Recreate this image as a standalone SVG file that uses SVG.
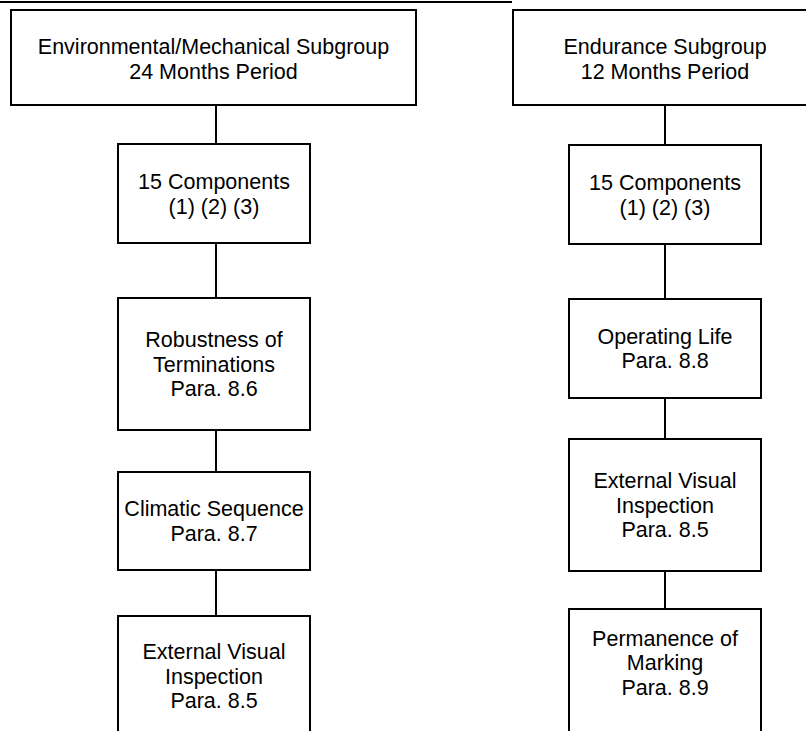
<svg xmlns="http://www.w3.org/2000/svg" width="806" height="731" viewBox="0 0 806 731">
<style>
.box{fill:#fff;stroke:#000;stroke-width:2}
.ln{stroke:#000;stroke-width:2;fill:none}
text{font-family:"Liberation Sans",Arial,sans-serif;font-size:21.5px;fill:#000;text-anchor:middle}
</style>
<rect width="806" height="731" fill="#fff"/>
<line class="ln" x1="0" y1="2" x2="512" y2="2"/>
<g id="connectors">
<line class="ln" x1="216" y1="105" x2="216" y2="144"/>
<line class="ln" x1="216" y1="243" x2="216" y2="298"/>
<line class="ln" x1="216" y1="430" x2="216" y2="472"/>
<line class="ln" x1="216" y1="570" x2="216" y2="616"/>
<line class="ln" x1="665" y1="105" x2="665" y2="145"/>
<line class="ln" x1="665" y1="244" x2="665" y2="299"/>
<line class="ln" x1="665" y1="398" x2="665" y2="439"/>
<line class="ln" x1="665" y1="571" x2="665" y2="609"/>
</g>
<g id="envmech">
<rect class="box" x="11" y="10" width="405" height="95"/>
<text x="213.5" y="54">Environmental/Mechanical Subgroup</text>
<text x="213.5" y="79">24 Months Period</text>
</g>
<g id="left-components">
<rect class="box" x="118" y="144" width="192" height="99"/>
<text x="214" y="189">15 Components</text>
<text x="214" y="214">(1) (2) (3)</text>
</g>
<g id="robustness">
<rect class="box" x="118" y="298" width="192" height="132"/>
<text x="214" y="347">Robustness of</text>
<text x="214" y="371.5">Terminations</text>
<text x="214" y="396">Para. 8.6</text>
</g>
<g id="climatic">
<rect class="box" x="118" y="472" width="192" height="98"/>
<text x="214" y="516">Climatic Sequence</text>
<text x="214" y="540.5">Para. 8.7</text>
</g>
<g id="left-visual">
<rect class="box" x="118" y="616" width="192" height="140"/>
<text x="214" y="659">External Visual</text>
<text x="214" y="684">Inspection</text>
<text x="214" y="708">Para. 8.5</text>
</g>
<g id="endurance">
<rect class="box" x="513" y="10" width="305" height="95"/>
<text x="665" y="54">Endurance Subgroup</text>
<text x="665" y="79">12 Months Period</text>
</g>
<g id="right-components">
<rect class="box" x="569" y="145" width="192" height="99"/>
<text x="665" y="190">15 Components</text>
<text x="665" y="215">(1) (2) (3)</text>
</g>
<g id="operating">
<rect class="box" x="569" y="299" width="192" height="99"/>
<text x="665" y="343.5">Operating Life</text>
<text x="665" y="368">Para. 8.8</text>
</g>
<g id="right-visual">
<rect class="box" x="569" y="439" width="192" height="132"/>
<text x="665" y="488">External Visual</text>
<text x="665" y="512.5">Inspection</text>
<text x="665" y="537">Para. 8.5</text>
</g>
<g id="permanence">
<rect class="box" x="569" y="609" width="192" height="140"/>
<text x="665" y="646">Permanence of</text>
<text x="665" y="670">Marking</text>
<text x="665" y="695">Para. 8.9</text>
</g>
</svg>
